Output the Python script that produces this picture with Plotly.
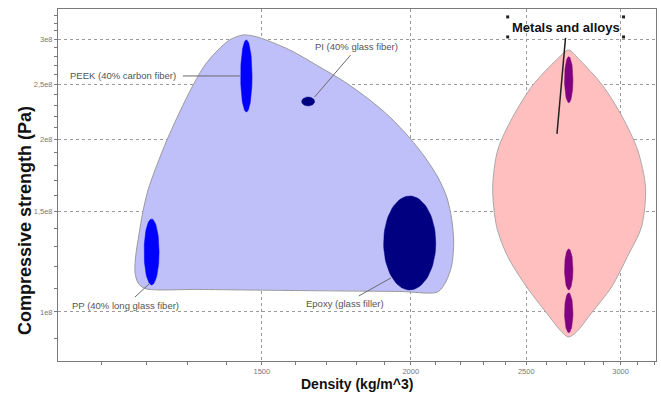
import numpy as np
import plotly.graph_objects as go

# ---------------- data ----------------
# Polymer envelope (density kg/m^3, compressive strength Pa)
poly_env_density = [2107, 1958, 1614, 1331, 1197, 1181, 1174, 1176, 1183, 1192, 1204, 1225, 1249,
                    1280, 1311, 1344, 1378, 1410, 1446, 1486, 1583, 1678, 1761, 1848, 1921, 1996,
                    2055, 2107, 2144, 2165, 2173, 2165, 2140, 2107]
poly_env_strength = [1.084e8, 1.086e8, 1.090e8, 1.095e8, 1.099e8, 1.124e8, 1.175e8, 1.258e8, 1.364e8,
                     1.496e8, 1.634e8, 1.807e8, 2.00e8, 2.237e8, 2.474e8, 2.703e8, 2.87e8, 2.99e8,
                     3.05e8, 3.026e8, 2.872e8, 2.68e8, 2.524e8, 2.348e8, 2.192e8, 2.015e8, 1.866e8,
                     1.722e8, 1.589e8, 1.449e8, 1.326e8, 1.208e8, 1.128e8, 1.084e8]

# Metals envelope
metal_env_density = [2713, 2771, 2897, 3011, 3100, 3148, 3124, 3040, 2948, 2836, 2755, 2713,
                     2677, 2600, 2502, 2412, 2361, 2343, 2366, 2435, 2531, 2651, 2713]
metal_env_strength = [2.87e8, 2.76e8, 2.49e8, 2.19e8, 1.92e8, 1.65e8, 1.41e8, 1.25e8, 1.106e8,
                      0.996e8, 0.923e8, 0.904e8, 0.923e8, 0.996e8, 1.106e8, 1.25e8, 1.41e8,
                      1.65e8, 1.92e8, 2.19e8, 2.49e8, 2.76e8, 2.87e8]

# Material bubbles: density range, strength range, colour
materials = ["PEEK (40% carbon fiber)", "PI (40% glass fiber)", "PP (40% long glass fiber)",
             "Epoxy (glass filler)", "Metal A", "Metal B", "Metal C"]
dens_min = [1440, 1620, 1195, 1898, 2692, 2692, 2692]
dens_max = [1472, 1661, 1230, 2099, 2736, 2736, 2736]
str_min = [2.237e8, 2.292e8, 1.115e8, 1.093e8, 2.322e8, 1.093e8, 0.920e8]
str_max = [2.99e8, 2.376e8, 1.454e8, 1.595e8, 2.795e8, 1.289e8, 1.080e8]
mat_colors = ["#0000ff", "#000080", "#0000ff", "#000080", "#800080", "#800080", "#800080"]

# Labels with leader lines: label pos, leader start / end
label_text = ["PEEK (40% carbon fiber)", "PI (40% glass fiber)", "PP (40% long glass fiber)",
              "Epoxy (glass filler)"]
label_x = [1276, 1802, 1153, 1763]
label_y = [2.586e8, 2.907e8, 1.0245e8, 1.0327e8]
label_anchor = ["right", "center", "center", "center"]
leader_x0 = [1288, 1781, 1174, 1809]
leader_y0 = [2.586e8, 2.814e8, 1.062e8, 1.0665e8]
leader_x1 = [1438, 1661, 1209, 1925]
leader_y1 = [2.586e8, 2.376e8, 1.124e8, 1.147e8]

metals_label = "Metals and alloys"
metals_label_x, metals_label_y = 2697, 3.137e8
metals_leader_x = [2697, 2653]
metals_leader_y = [3.014e8, 2.048e8]
handle_x = [2412, 3017, 2412, 3017]
handle_y = [3.28e8, 3.28e8, 3.026e8, 3.026e8]

x_tickvals = [1500, 2000, 2500, 3000]
x_ticktext = ["1500", "2000", "2500", "3000"]
y_tickvals = [1e8, 1.5e8, 2e8, 2.5e8, 3e8]
y_ticktext = ["1e8", "1,5e8", "2e8", "2,5e8", "3e8"]
x_minor = [v for v in range(1100, 3300, 100) if v not in x_tickvals]
y_minor = [v * 1e7 for v in range(9, 34) if v * 1e7 not in y_tickvals]

FONT = "Arial, Liberation Sans, sans-serif"

fig = go.Figure()

# envelopes
fig.add_trace(go.Scatter(x=poly_env_density, y=poly_env_strength, mode="lines", fill="toself",
                         fillcolor="rgb(191,191,250)", line=dict(color="#9a9a9a", width=1, shape="spline", smoothing=0.8),
                         hoverinfo="skip", showlegend=False))
fig.add_trace(go.Scatter(x=metal_env_density, y=metal_env_strength, mode="lines", fill="toself",
                         fillcolor="rgb(255,191,191)", line=dict(color="#a8a8a8", width=1, shape="spline", smoothing=0.8),
                         hoverinfo="skip", showlegend=False))

# ellipses (in log space)
t = np.linspace(0, 2 * np.pi, 80)
for name, x0, x1, y0, y1, c in zip(materials, dens_min, dens_max, str_min, str_max, mat_colors):
    cx, rx = (np.log10(x0) + np.log10(x1)) / 2, (np.log10(x1) - np.log10(x0)) / 2
    cy, ry = (np.log10(y0) + np.log10(y1)) / 2, (np.log10(y1) - np.log10(y0)) / 2
    fig.add_trace(go.Scatter(x=10 ** (cx + rx * np.cos(t)), y=10 ** (cy + ry * np.sin(t)),
                             mode="lines", fill="toself", fillcolor=c, line=dict(color=c, width=0.5),
                             name=name, hoverinfo="name", showlegend=False))

# leader lines
for xa, ya, xb, yb in zip(leader_x0, leader_y0, leader_x1, leader_y1):
    fig.add_trace(go.Scatter(x=[xa, xb], y=[ya, yb], mode="lines", line=dict(color="#6a6a6a", width=1),
                             hoverinfo="skip", showlegend=False))
fig.add_trace(go.Scatter(x=metals_leader_x, y=metals_leader_y, mode="lines",
                         line=dict(color="#222222", width=1.5), hoverinfo="skip", showlegend=False))
fig.add_trace(go.Scatter(x=handle_x, y=handle_y, mode="markers",
                         marker=dict(color="#222222", size=3, symbol="square"), hoverinfo="skip", showlegend=False))

annotations = []
for txt, x, y, a in zip(label_text, label_x, label_y, label_anchor):
    annotations.append(dict(x=np.log10(x), y=np.log10(y), xref="x", yref="y", text=txt, showarrow=False,
                            xanchor=a, yanchor="middle", font=dict(family=FONT, size=9.5, color="#555555")))
annotations.append(dict(x=np.log10(metals_label_x), y=np.log10(metals_label_y), xref="x", yref="y",
                        text="<b>" + metals_label + "</b>", showarrow=False, xanchor="center", yanchor="middle",
                        font=dict(family=FONT, size=13, color="#111111")))
annotations.append(dict(x=-0.055, y=0.398, xref="paper", yref="paper", text="<b>Compressive strength (Pa)</b>",
                        textangle=-90, showarrow=False, xanchor="center", yanchor="middle",
                        font=dict(family=FONT, size=18, color="#111111")))
annotations.append(dict(x=0.5, y=-0.0665, xref="paper", yref="paper", text="<b>Density (kg/m^3)</b>",
                        showarrow=False, xanchor="center", yanchor="middle",
                        font=dict(family=FONT, size=14, color="#111111")))

axis_common = dict(type="log", showgrid=True, gridcolor="#9a9a9a", griddash="3px,3px", gridwidth=1,
                   showline=True, linecolor="#7a7a7a", linewidth=1, mirror=True, zeroline=False,
                   ticks="outside", ticklen=3, tickcolor="#7a7a7a", tickmode="array",
                   tickfont=dict(family=FONT, size=7.5, color="#777777"))

fig.update_layout(
    width=661, height=394, margin=dict(l=58, r=5, t=9, b=33),
    paper_bgcolor="white", plot_bgcolor="white", showlegend=False,
    xaxis=dict(range=[3.0051, 3.5068], tickvals=x_tickvals, ticktext=x_ticktext,
               minor=dict(tickmode="array", tickvals=x_minor, ticks="outside", ticklen=3, tickcolor="#7a7a7a", showgrid=False),
               **axis_common),
    yaxis=dict(range=[7.9143, 8.5297], tickvals=y_tickvals, ticktext=y_ticktext,
               minor=dict(tickmode="array", tickvals=y_minor, ticks="outside", ticklen=3, tickcolor="#7a7a7a", showgrid=False),
               **axis_common),
    annotations=annotations,
)

fig.write_html("out.html")
